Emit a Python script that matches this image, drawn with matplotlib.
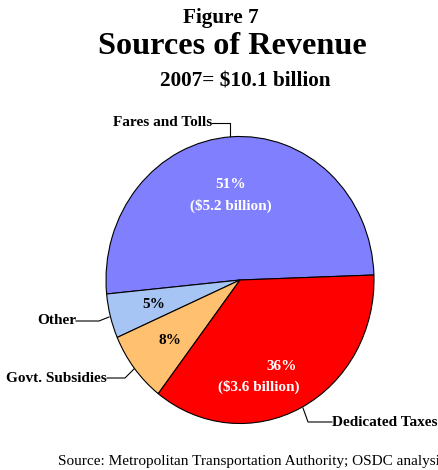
import matplotlib.pyplot as plt

# Revenue shares, 2007
sources = ["Fares and Tolls", "Other", "Govt. Subsidies", "Dedicated Taxes"]
shares = [51, 5, 8, 36]
billions = [5.2, None, None, 3.6]
colors = ["#8080FF", "#A6C4F4", "#FFC070", "#FF0000"]

plt.rcParams['font.family'] = ['Liberation Serif', 'DejaVu Serif']

W, H = 439, 470
CX, CY = 240, 280      # pie centre, pixels from top-left
RX, RY = 134, 143.5    # pie radii in pixels


def px(x, y):
    # pixel position -> data coordinates of the pie axes
    return (x - CX) / RX, (CY - y) / RY


fig = plt.figure(figsize=(W / 100, H / 100), dpi=100)
ax = fig.add_axes([0, 0, 1, 1])

ax.pie(shares, colors=colors, startangle=2, counterclock=True,
       wedgeprops=dict(edgecolor='black', linewidth=0.8))
ax.set_aspect('auto')
ax.set_xlim(-CX / RX, (W - CX) / RX)
ax.set_ylim(-(H - CY) / RY, CY / RY)
ax.axis('off')

# Titles
fig.text(221 / W, 1 - 18 / H, "Figure 7", ha='center', va='center',
         fontsize=15.3, fontweight='bold')
fig.text(232 / W, 1 - 46 / H, "Sources of Revenue", ha='center', va='center',
         fontsize=23.2, fontweight='bold')
fig.text(245 / W, 1 - 82 / H, "2007= $10.1 billion", ha='center', va='center',
         fontsize=15.3, fontweight='bold')

# Values inside the wedges
inside = [
    ((231, 185), (231, 206), 'white'),
    ((154, 305), None, 'black'),
    ((170, 340), None, 'black'),
    ((282, 366), (259, 387), 'white'),
]
for share, bil, (pct_pos, bil_pos, tc) in zip(shares, billions, inside):
    ax.text(*px(*pct_pos), f"{share}%", ha='center', va='center',
            fontsize=11, fontweight='bold', color=tc)
    if bil is not None:
        ax.text(*px(*bil_pos), f"(${bil} billion)", ha='center', va='center',
                fontsize=11, fontweight='bold', color=tc)

# Category labels with leader lines
leaders = [
    ((212, 123), 'right', [(212, 123), (230, 123), (230, 136)]),
    ((76, 321), 'right', [(76, 321), (99, 321), (109, 317)]),
    ((107, 378), 'right', [(107, 378), (125, 378), (134, 369)]),
    ((332, 422), 'left', [(332, 422), (308, 422), (303, 408)]),
]
for name, (tpos, ha, pts) in zip(sources, leaders):
    ax.text(*px(*tpos), name, ha=ha, va='center', fontsize=11,
            fontweight='bold')
    xs, ys = zip(*[px(*p) for p in pts])
    ax.plot(xs, ys, color='black', lw=0.8)

fig.text(58 / W, 1 - 462 / H,
         "Source: Metropolitan Transportation Authority; OSDC analysis",
         ha='left', va='center', fontsize=11)

fig.savefig("out.png", dpi=100)
